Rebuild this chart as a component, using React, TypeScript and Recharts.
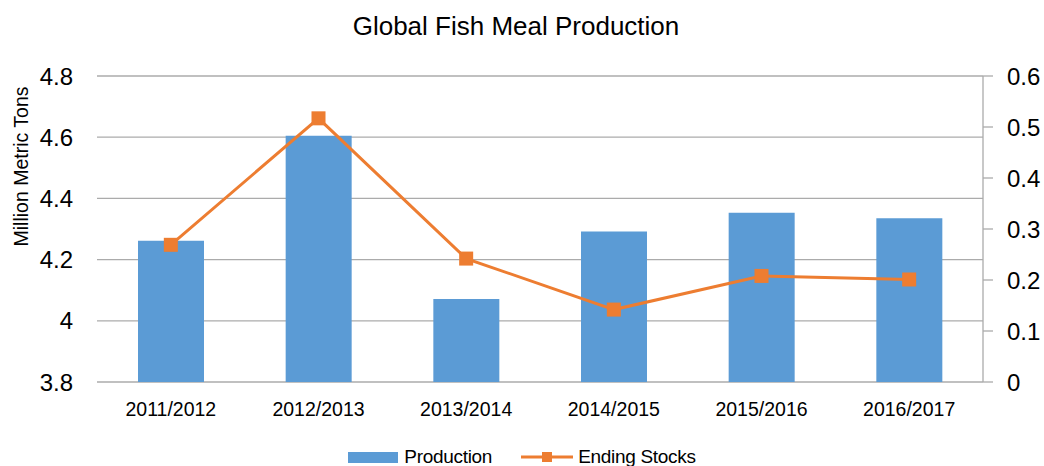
import React from "react";
import {
  ComposedChart,
  Bar,
  Line,
  XAxis,
  YAxis,
  CartesianGrid,
  Legend,
  Label,
} from "recharts";

const categories = ["2011/2012", "2012/2013", "2013/2014", "2014/2015", "2015/2016", "2016/2017"];
const production = [4.262, 4.605, 4.071, 4.292, 4.353, 4.335];
const endingStocks = [0.269, 0.517, 0.242, 0.142, 0.208, 0.201];
const leftTicks = [3.8, 4, 4.2, 4.4, 4.6, 4.8];
const rightTicks = [0, 0.1, 0.2, 0.3, 0.4, 0.5, 0.6];

const BAR_COLOR = "#5B9BD5";
const LINE_COLOR = "#ED7D31";
const GRID_COLOR = "#ABABAB";
const FONT = '"Liberation Sans", Arial, sans-serif';

const data = categories.map((c, i) => ({
  name: c,
  production: production[i],
  stocks: endingStocks[i],
}));

const SquareDot = (props: any) => {
  const { cx, cy, index } = props;
  if (cx == null || cy == null) return null;
  return <rect key={index} x={cx - 7} y={cy - 7} width={14} height={14} fill={LINE_COLOR} />;
};

const LegendBox = () => (
  <div
    style={{
      display: "flex",
      justifyContent: "center",
      alignItems: "center",
      height: 24,
      fontFamily: FONT,
      fontSize: 19,
      letterSpacing: -0.3,
      color: "#000",
    }}
  >
    <div style={{ width: 50, height: 11, background: BAR_COLOR, marginRight: 6 }} />
    <span>Production</span>
    <svg width={52} height={14} style={{ marginLeft: 29, marginRight: 5 }}>
      <line x1={0} y1={7} x2={52} y2={7} stroke={LINE_COLOR} strokeWidth={3} />
      <rect x={21} y={2} width={10} height={10} fill={LINE_COLOR} />
    </svg>
    <span>Ending Stocks</span>
  </div>
);

export default function App() {
  return (
    <div style={{ position: "absolute", left: 0, top: 0, width: 1044, height: 466, background: "#fff" }}>
      <div
        style={{
          position: "absolute",
          top: 13,
          left: 0,
          width: 1032,
          textAlign: "center",
          fontFamily: FONT,
          fontSize: 26,
          lineHeight: "26px",
          color: "#000",
        }}
      >
        Global Fish Meal Production
      </div>
      <ComposedChart
        width={1044}
        height={466}
        data={data}
        margin={{ top: 76, right: 0, left: 0, bottom: 44 }}
      >
        <CartesianGrid yAxisId="left" vertical={false} stroke={GRID_COLOR} strokeWidth={1.3} />
        <XAxis
          dataKey="name"
          height={40}
          axisLine={false}
          tickLine={false}
          tickSize={0}
          tickMargin={20}
          tick={{ fill: "#000", fontSize: 19.5, fontFamily: FONT }}
          interval={0}
        />
        <YAxis
          yAxisId="left"
          width={97}
          domain={[3.8, 4.8]}
          ticks={leftTicks}
          axisLine={false}
          tickLine={false}
          tickSize={0}
          tickMargin={24}
          tick={{ fill: "#000", fontSize: 24, fontFamily: FONT }}
        >
          <Label
            content={() => (
              <text
                transform="translate(28,166.5) rotate(-90)"
                textAnchor="middle"
                fontFamily={FONT}
                fontSize={19.5}
                fill="#000"
              >
                Million Metric Tons
              </text>
            )}
          />
        </YAxis>
        <YAxis
          yAxisId="right"
          orientation="right"
          width={61}
          domain={[0, 0.6]}
          ticks={rightTicks}
          axisLine={{ stroke: GRID_COLOR, strokeWidth: 1.3 }}
          tickLine={{ stroke: GRID_COLOR, strokeWidth: 1.3 }}
          tickSize={10}
          tickMargin={14}
          tickFormatter={(v: number) => String(v)}
          tick={{ fill: "#000", fontSize: 24, fontFamily: FONT }}
        />
        <Bar
          yAxisId="left"
          dataKey="production"
          name="Production"
          fill={BAR_COLOR}
          barSize={66}
          isAnimationActive={false}
        />
        <Line
          yAxisId="right"
          dataKey="stocks"
          name="Ending Stocks"
          stroke={LINE_COLOR}
          strokeWidth={3}
          dot={SquareDot}
          activeDot={false}
          isAnimationActive={false}
        />
        <Legend
          layout="horizontal"
          verticalAlign="middle"
          align="center"
          wrapperStyle={{ top: 445, left: 0, width: 1044 }}
          content={() => <LegendBox />}
        />
      </ComposedChart>
    </div>
  );
}
